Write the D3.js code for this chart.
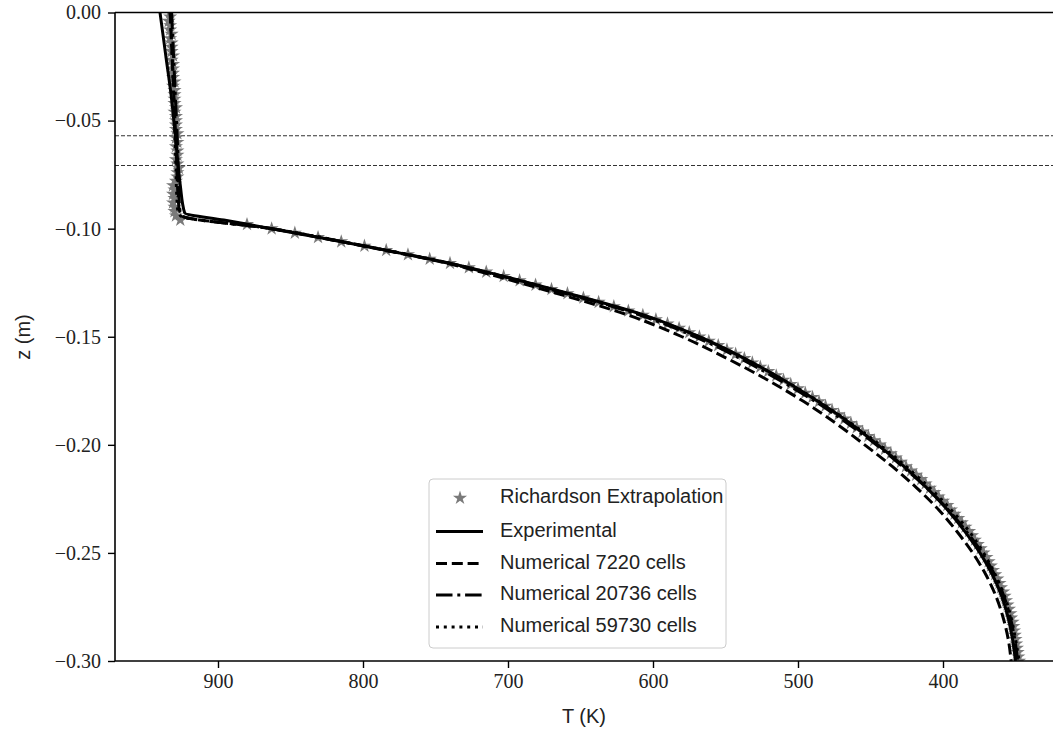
<!DOCTYPE html>
<html>
<head>
<meta charset="utf-8">
<script src="https://cdn.jsdelivr.net/npm/d3@7"></script>
<style>
  html, body { margin: 0; padding: 0; background: #fff; }
  svg { display: block; }
</style>
</head>
<body>
<svg id="chart" width="1053" height="735"></svg>
<script>
// ---------------- DATA ----------------
const xTicks = [900, 800, 700, 600, 500, 400];
const yTicks = [0, -0.05, -0.10, -0.15, -0.20, -0.25, -0.30];
const yTickLabels = ["0.00", "\u22120.05", "\u22120.10", "\u22120.15", "\u22120.20", "\u22120.25", "\u22120.30"];
const refLines = [-0.057, -0.0708];

const legendLabels = ["Richardson Extrapolation", "Experimental", "Numerical 7220 cells", "Numerical 20736 cells", "Numerical 59730 cells"];

// Richardson extrapolation (stars)
const richZ = [0,-0.002,-0.004,-0.006,-0.008,-0.010,-0.012,-0.014,-0.016,-0.018,
  -0.020,-0.022,-0.024,-0.026,-0.028,-0.030,-0.032,-0.034,-0.036,-0.038,
  -0.040,-0.042,-0.044,-0.046,-0.048,-0.050,-0.052,-0.054,-0.056,-0.058,
  -0.060,-0.062,-0.064,-0.066,-0.068,-0.070,-0.072,-0.074,-0.076,-0.078,
  -0.080,-0.082,-0.084,-0.086,-0.088,-0.090,-0.092,-0.094,-0.096,-0.098,
  -0.100,-0.102,-0.104,-0.106,-0.108,-0.110,-0.112,-0.114,-0.116,-0.118,
  -0.120,-0.122,-0.124,-0.126,-0.128,-0.130,-0.132,-0.134,-0.136,-0.138,
  -0.140,-0.142,-0.144,-0.146,-0.148,-0.150,-0.152,-0.154,-0.156,-0.158,
  -0.160,-0.162,-0.164,-0.166,-0.168,-0.170,-0.172,-0.174,-0.176,-0.178,
  -0.180,-0.182,-0.184,-0.186,-0.188,-0.190,-0.192,-0.194,-0.196,-0.198,
  -0.200,-0.202,-0.204,-0.206,-0.208,-0.210,-0.212,-0.214,-0.216,-0.218,
  -0.220,-0.222,-0.224,-0.226,-0.228,-0.230,-0.232,-0.234,-0.236,-0.238,
  -0.240,-0.242,-0.244,-0.246,-0.248,-0.250,-0.252,-0.254,-0.256,-0.258,
  -0.260,-0.262,-0.264,-0.266,-0.268,-0.270,-0.272,-0.274,-0.276,-0.278,
  -0.280,-0.282,-0.284,-0.286,-0.288,-0.290,-0.292,-0.294,-0.296,-0.298,-0.300];
const richT = [933,933,934,933,933,932,933,932,932,932,
  931,932,931,931,931,931,930,931,930,930,
  930,930,929,930,929,929,929,929,928,929,
  928,929,928,928,929,928,927,928,928,929,
  931,930,931,930,931,930,930,929,926,880,
  863,847,831,815,799,784,769,754,740,727,
  715,703,692,681,670,659,648,637.5,627,617,
  607,598,590,582,575,568,561.5,555,549,543,
  537,531.5,526,520.5,515,510,505,500,495,490,
  485.5,481,476.5,472,468,463.5,459.5,455.5,451.5,447.5,
  443.5,440,436,432.5,429,425.5,422,418.5,415,412,
  409,406,403,400,397,394.5,392,389.5,387,384.5,
  382,380,378,376,374,372,370,368.5,367,365.5,
  364,362.5,361,360,358.5,357.5,356.5,355.5,354.5,353.5,
  353,352,351.5,351,350.5,350,349.5,349,348.5,348,347.5];

// Experimental (solid)
const expZ = [0,-0.02,-0.04,-0.06,-0.08,-0.0927,-0.096,-0.100,-0.104,-0.108,-0.112,-0.116,-0.120,-0.125,-0.13,-0.14,-0.15,-0.16,-0.17,-0.18,-0.19,-0.20,-0.21,-0.22,-0.23,-0.24,-0.25,-0.26,-0.27,-0.28,-0.29,-0.30];
const expT = [940,936,932,929,926,923,896,863,831,799,769,740,715,686,658,606,568,537,510,486,464,445,427,411,397,385,374.5,366,359.5,355,352,350];

// Numerical 7220 cells (dashed)
const n7220Z = [0,-0.03,-0.06,-0.09,-0.094,-0.100,-0.104,-0.108,-0.112,-0.116,-0.120,-0.125,-0.13,-0.14,-0.15,-0.16,-0.17,-0.18,-0.19,-0.20,-0.21,-0.22,-0.23,-0.24,-0.25,-0.26,-0.27,-0.28,-0.29,-0.30];
const n7220T = [933,931,929,927,925,863,831,800,770,742,719,692,666,617,580,549,521,496,474,454,435,418,403,390.5,379.5,370.5,363.5,358.5,355,353];

// Numerical 20736 cells (dash-dot)
const n20736Z = [0,-0.03,-0.06,-0.09,-0.094,-0.100,-0.108,-0.116,-0.12,-0.13,-0.14,-0.15,-0.16,-0.17,-0.18,-0.19,-0.20,-0.21,-0.22,-0.23,-0.24,-0.25,-0.26,-0.27,-0.28,-0.29,-0.30];
const n20736T = [932,930,928,926.5,925,863,799,741,716,660,609,571,540,513,488,466,446,428,411,396.5,384,373,364.5,358,353.5,350.5,348.5];

// Numerical 59730 cells (dotted)
const n59730Z = [0,-0.03,-0.06,-0.09,-0.094,-0.100,-0.108,-0.116,-0.12,-0.13,-0.14,-0.15,-0.16,-0.17,-0.18,-0.19,-0.20,-0.21,-0.22,-0.23,-0.24,-0.25,-0.26,-0.27,-0.28,-0.29,-0.30];
const n59730T = [933,931,929.5,928,926,863,799,740,715,659,607,568,537,510,485.5,463.5,443.5,425.5,409,394.5,382,372,364,357.5,353,350,347.5];

// ---------------- CHART ----------------
const svg = d3.select("#chart");
const L = 115, R = 1056, T0 = 12.5, B = 661;

const x = d3.scaleLinear().domain([900, 400]).range([218, 943]);
const y = d3.scaleLinear().domain([0, -0.30]).range([T0, B]);

svg.append("defs").append("clipPath").attr("id", "clip")
  .append("rect").attr("x", L).attr("y", T0).attr("width", R - L).attr("height", B - T0);

const plot = svg.append("g").attr("clip-path", "url(#clip)");

// reference dashed lines
plot.selectAll("line.ref").data(refLines).enter().append("line")
  .attr("class", "ref")
  .attr("x1", L).attr("x2", R)
  .attr("y1", d => y(d)).attr("y2", d => y(d))
  .attr("stroke", "#333").attr("stroke-width", 1.1)
  .attr("stroke-dasharray", "4,2");

// stars
const star = d3.symbol().type(d3.symbolStar).size(62);
const starLeg = d3.symbol().type(d3.symbolStar).size(62);
plot.selectAll("path.star").data(richZ.map((z, i) => [richT[i], z])).enter().append("path")
  .attr("class", "star")
  .attr("d", star)
  .attr("transform", d => `translate(${x(d[0])},${y(d[1])})`)
  .attr("fill", "#7a7a7a");

const lineGen = d3.line().x(d => x(d[0])).y(d => y(d[1])).curve(d3.curveMonotoneY);

const series = [
  { Z: n59730Z, T: n59730T, dash: "3,4.8" },
  { Z: n20736Z, T: n20736T, dash: "16.5,4.8,3,4.8" },
  { Z: n7220Z, T: n7220T, dash: "11,4.8" },
  { Z: expZ, T: expT, dash: null }
];
series.forEach(s => {
  plot.append("path")
    .datum(s.Z.map((z, i) => [s.T[i], z]))
    .attr("d", lineGen)
    .attr("fill", "none")
    .attr("stroke", "#000")
    .attr("stroke-width", 3)
    .attr("stroke-dasharray", s.dash);
});

// axes
const xAxis = d3.axisBottom(x).tickValues(xTicks).tickSize(7).tickPadding(6).tickFormat(d3.format("d"));
const gx = svg.append("g").attr("transform", `translate(0,${B})`).call(xAxis);
gx.select(".domain").remove();
gx.selectAll(".tick line").attr("stroke", "#000").attr("stroke-width", 1.4);
gx.selectAll(".tick text").attr("font-family", "'Liberation Serif', 'DejaVu Serif', serif")
  .attr("font-size", 20).attr("fill", "#222");

const yAxis = d3.axisLeft(y).tickValues(yTicks).tickSize(7).tickPadding(7)
  .tickFormat((d, i) => yTickLabels[i]);
const gy = svg.append("g").attr("transform", `translate(${L},0)`).call(yAxis);
gy.select(".domain").remove();
gy.selectAll(".tick line").attr("stroke", "#000").attr("stroke-width", 1.4);
gy.selectAll(".tick text").attr("font-family", "'Liberation Serif', 'DejaVu Serif', serif")
  .attr("font-size", 20).attr("fill", "#222");

// spines
const spine = svg.append("g").attr("stroke", "#000").attr("stroke-width", 1.6).attr("fill", "none");
spine.append("line").attr("x1", L).attr("x2", R).attr("y1", T0).attr("y2", T0);
spine.append("line").attr("x1", L).attr("x2", R).attr("y1", B).attr("y2", B);
spine.append("line").attr("x1", L).attr("x2", L).attr("y1", T0).attr("y2", B);

// axis titles
svg.append("text").attr("x", 584).attr("y", 718)
  .attr("text-anchor", "middle").attr("dominant-baseline", "middle")
  .attr("font-family", "'Liberation Sans', Arial, sans-serif").attr("font-size", 20).attr("fill", "#222")
  .text("T (K)");
svg.append("text")
  .attr("transform", "translate(25,337) rotate(-90)")
  .attr("text-anchor", "middle").attr("dominant-baseline", "middle")
  .attr("font-family", "'Liberation Sans', Arial, sans-serif").attr("font-size", 20).attr("fill", "#222")
  .text("z (m)");

// legend
const lg = svg.append("g");
lg.append("rect").attr("x", 429).attr("y", 479).attr("width", 297).attr("height", 169)
  .attr("rx", 4).attr("fill", "#fff").attr("fill-opacity", 0.85)
  .attr("stroke", "#cccccc").attr("stroke-width", 1);
const rowY = [498, 531.5, 563.5, 595, 627];
const dashes = [null, null, "11,4.8", "16.5,4.8,3,4.8", "3,4.8"];
legendLabels.forEach((lab, i) => {
  if (i === 0) {
    lg.append("path").attr("d", starLeg).attr("transform", `translate(460,${rowY[i]})`).attr("fill", "#7a7a7a");
  } else {
    lg.append("line").attr("x1", 436).attr("x2", 483).attr("y1", rowY[i]).attr("y2", rowY[i])
      .attr("stroke", "#000").attr("stroke-width", 3).attr("stroke-dasharray", dashes[i]);
  }
  lg.append("text").attr("x", 500).attr("y", rowY[i])
    .attr("dominant-baseline", "middle")
    .attr("font-family", "'Liberation Sans', Arial, sans-serif").attr("font-size", 20).attr("fill", "#222")
    .text(lab);
});
</script>
</body>
</html>
